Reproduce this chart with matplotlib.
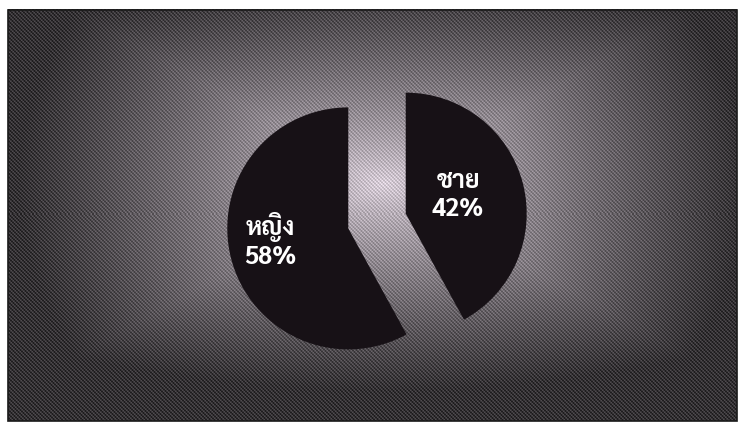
import matplotlib
matplotlib.use("Agg")
import matplotlib.pyplot as plt
import numpy as np
from matplotlib.patches import Rectangle

# Data
labels = ["ชาย", "หญิง"]
values = [42, 58]

W, H = 739, 425
R = 121.0                 # pie radius in px
cx, cy = 377.0, 204.0     # pie centre in px from bottom-left

fig = plt.figure(figsize=(W / 100, H / 100), dpi=100)
fig.patch.set_facecolor("white")
ax = fig.add_axes([0, 0, 1, 1])
x0, x1 = -cx / R, (W - cx) / R
y0, y1 = -cy / R, (H - cy) / R

# Background panel: rectangular "from centre" gradient
fx0, fx1 = (8 - cx) / R, (737 - cx) / R
fy0, fy1 = ((H - 421) - cy) / R, ((H - 10) - cy) / R
nx, ny = 729, 411
gx = np.linspace(fx0, fx1, nx)
gy = np.linspace(fy0, fy1, ny)
GX, GY = np.meshgrid(gx, gy)
ccx, ccy = 0.05, 0.3
dx = np.abs(GX - ccx) / (fx1 - fx0) * 2
dy = np.abs(GY - ccy) / (fy1 - fy0) * 2
d = np.clip(0.55 * np.maximum(dx, dy) + 0.45 * np.sqrt(dx ** 2 + dy ** 2), 0, 1.2)
bright = 0.84 - 0.64 * np.clip(d, 0, 1) ** 0.8
# fine cross-hatch dither texture
ii, jj = np.meshgrid(np.arange(nx), np.arange(ny))
tex = (((ii + jj) % 4 < 2).astype(float) - 0.5) * 0.12 + (((ii - jj) % 3 == 0).astype(float) - 0.33) * 0.07
g = np.clip(bright + tex, 0, 1)
rgb = np.dstack([g * 1.02, g * 0.97, g * 1.02]).clip(0, 1)
ax.imshow(rgb, extent=[fx0, fx1, fy0, fy1],
          origin="lower", interpolation="nearest", zorder=0, aspect="auto")
ax.add_patch(Rectangle((fx0, fy0), fx1 - fx0, fy1 - fy0, fill=False,
                       edgecolor="#1a1a1a", linewidth=1.2, zorder=1))

wedges, _ = ax.pie(values, startangle=90, counterclock=False,
                   explode=[0.245, 0.245], colors=["#171116", "#171116"],
                   wedgeprops=dict(linewidth=0, zorder=2))

font = ["Sarabun", "IBM Plex Sans Thai", "DejaVu Sans"]
ax.text(0.67, 0.207, f"{labels[0]}\n{values[0]}%", color="white", fontsize=18,
        fontweight="bold", ha="center", va="center", family=font,
        linespacing=1.2, zorder=3)
ax.text(-0.88, -0.165, f"{labels[1]}\n{values[1]}%", color="white", fontsize=18,
        fontweight="bold", ha="center", va="center", family=font,
        linespacing=1.2, zorder=3)

ax.set_xlim(x0, x1)
ax.set_ylim(y0, y1)
ax.set_aspect("auto")
ax.axis("off")
fig.savefig("out.png", dpi=100, facecolor="white")
